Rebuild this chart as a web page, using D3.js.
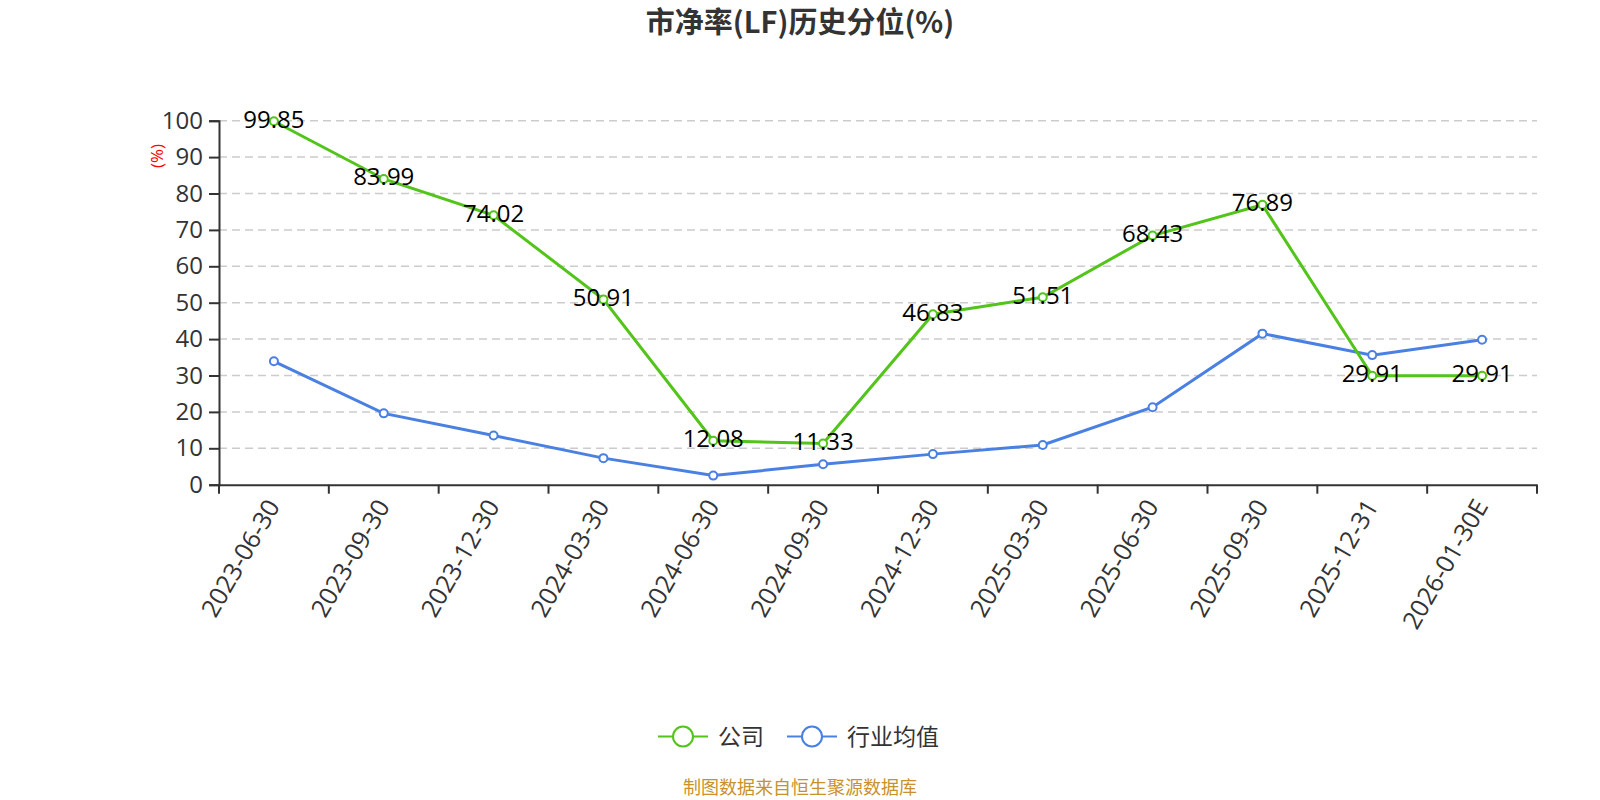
<!DOCTYPE html>
<html><head><meta charset="utf-8">
<script src="https://cdn.jsdelivr.net/npm/d3@7/dist/d3.min.js"></script>
<style>body{margin:0;background:#fff}svg{display:block}text{font-family:"Open Sans","Noto Sans CJK SC",sans-serif}.cjk{font-family:"Noto Sans CJK SC","Noto Sans",sans-serif}</style>
</head><body><svg id="c" width="1600" height="800"></svg>
<script>
const categories = ["2023-06-30","2023-09-30","2023-12-30","2024-03-30","2024-06-30","2024-09-30","2024-12-30","2025-03-30","2025-06-30","2025-09-30","2025-12-31","2026-01-30E"];
const companyValues = [99.85,83.99,74.02,50.91,12.08,11.33,46.83,51.51,68.43,76.89,29.91,29.91];
const industryValues = [33.9,19.6,13.5,7.3,2.5,5.6,8.4,10.9,21.3,41.5,35.6,39.8];
const yTicks = [0,10,20,30,40,50,60,70,80,90,100];
const seriesNames = ["公司","行业均值"];
const colors = ["#52C41A","#4A80E2"];

const svg = d3.select("#c");
const x = d3.scaleBand().domain(categories).range([219,1537]);
const y = d3.scaleLinear().domain([0,100]).range([484.7,120.7]);

svg.append("text").attr("class","cjk").attr("x",800).attr("y",33).attr("text-anchor","middle")
  .attr("font-size",29).attr("font-weight","bold").attr("fill","#333").text("市净率(LF)历史分位(%)");

// grid
svg.append("g").selectAll("line").data(yTicks.filter(d=>d>0)).join("line")
  .attr("x1",219).attr("x2",1537).attr("y1",d=>y(d)).attr("y2",d=>y(d))
  .attr("stroke","#ccc").attr("stroke-width",1.5).attr("stroke-dasharray","8,5");

// y axis
const ya = svg.append("g").attr("transform","translate(219,0)")
  .call(d3.axisLeft(y).tickValues(yTicks).tickSize(10).tickPadding(6));
ya.select(".domain").attr("stroke","#333").attr("stroke-width",2);
ya.selectAll(".tick line").attr("stroke","#333").attr("stroke-width",2);
ya.selectAll(".tick text").attr("font-size",24).attr("fill","#333").attr("font-family","'Open Sans',sans-serif");

svg.append("text").attr("transform","translate(157,156) rotate(-90)").attr("text-anchor","middle")
  .attr("dy","0.35em").attr("font-size",17).attr("fill","red").text("(%)");

// x axis
const xa = svg.append("g").attr("transform","translate(0,484.7)")
  .call(d3.axisBottom(x).tickSize(0).tickFormat(""));
xa.select(".domain").attr("stroke","#333").attr("stroke-width",2);
const edges = categories.map(c=>x(c)).concat([x.range()[1]]);
xa.selectAll(".edge").data(edges).join("line").attr("class","edge")
  .attr("x1",d=>d).attr("x2",d=>d).attr("y1",0).attr("y2",9).attr("stroke","#333").attr("stroke-width",2);
xa.selectAll(".lbl").data(categories).join("text").attr("class","lbl")
  .attr("transform",d=>`translate(${x(d)+x.bandwidth()/2+1},${18}) rotate(-60)`)
  .attr("text-anchor","end").attr("dominant-baseline","middle")
  .attr("font-size",25).attr("fill","#333").text(d=>d);

const cx = d=>x(d)+x.bandwidth()/2;
[industryValues, companyValues].forEach((vals,k)=>{
  const idx = k===0?1:0;
  const pts = categories.map((c,i)=>[cx(c),y(vals[i])]);
  svg.append("path").attr("d",d3.line()(pts)).attr("fill","none")
    .attr("stroke",colors[idx]).attr("stroke-width",3);
  svg.append("g").selectAll("circle").data(pts).join("circle")
    .attr("cx",d=>d[0]).attr("cy",d=>d[1]).attr("r",4)
    .attr("fill","#fff").attr("stroke",colors[idx]).attr("stroke-width",2);
});

// labels for company
svg.append("g").selectAll("text").data(categories).join("text")
  .attr("x",d=>cx(d)).attr("y",(d,i)=>y(companyValues[i])-2).attr("dy","0.35em")
  .attr("text-anchor","middle").attr("font-size",24).attr("fill","#000")
  .text((d,i)=>companyValues[i].toFixed(2));

// legend
const lg = svg.append("g");
const legendItems = [{x:658,tx:718},{x:787,tx:847}];
seriesNames.forEach((n,i)=>{
  const L = legendItems[i];
  lg.append("line").attr("x1",L.x).attr("x2",L.x+50).attr("y1",736.5).attr("y2",736.5)
    .attr("stroke",colors[i]).attr("stroke-width",2);
  lg.append("circle").attr("cx",L.x+25).attr("cy",736.5).attr("r",10)
    .attr("fill","#fff").attr("stroke",colors[i]).attr("stroke-width",2);
  lg.append("text").attr("class","cjk").attr("x",L.tx).attr("y",736.5).attr("dy","0.35em")
    .attr("font-size",23).attr("fill","#333").text(n);
});

svg.append("text").attr("class","cjk").attr("x",800).attr("y",788).attr("dy","0.35em").attr("text-anchor","middle")
  .attr("font-size",18).attr("fill","#C8922A").text("制图数据来自恒生聚源数据库");
</script></body></html>
